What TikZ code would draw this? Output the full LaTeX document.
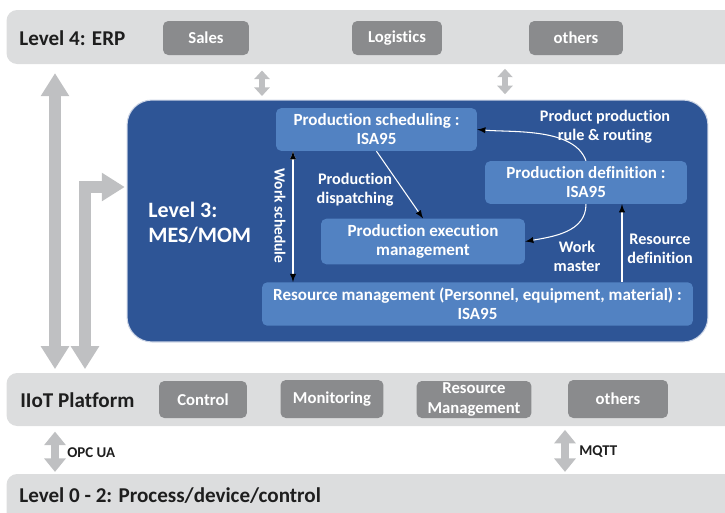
\documentclass[tikz,border=0pt]{standalone}
\usepackage{fontspec}
\setmainfont{Carlito}[Ligatures=NoCommon]
\usetikzlibrary{arrows.meta}
\definecolor{barfill}{RGB}{220,221,222}
\definecolor{boxfill}{RGB}{138,139,141}
\definecolor{arrowgray}{RGB}{191,192,194}
\definecolor{mesblue}{RGB}{46,85,150}
\definecolor{isablue}{RGB}{82,130,194}
\definecolor{bartext}{RGB}{30,30,30}
\begin{document}
\begin{tikzpicture}
	[x=0.02cm,y=-0.02cm,
	bar/.style={fill=barfill,rounded corners=6pt,minimum width=14.7cm},
	barlabel/.style={anchor=west,inner sep=0pt,text=bartext,font=\bfseries\fontsize{12}{14}\selectfont},
	graybox/.style={fill=boxfill,rounded corners=3pt,text=white,align=center,font=\bfseries\fontsize{9.5}{11}\selectfont},
	isabox/.style={fill=isablue,rounded corners=3pt,text=white,align=center,font=\bfseries\fontsize{9.7}{10.8}\selectfont},
	flowlabel/.style={text=white,align=center,font=\bfseries\fontsize{9.2}{10.8}\selectfont},
	fat/.style={draw=arrowgray,line width=0.24cm,{Triangle[width=0.54cm,length=0.46cm]}-{Triangle[width=0.54cm,length=0.46cm]}},
	slim/.style={draw=arrowgray,line width=0.15cm,{Triangle[width=0.42cm,length=0.27cm]}-{Triangle[width=0.42cm,length=0.27cm]}},
	tiny/.style={draw=arrowgray,line width=0.12cm,{Triangle[width=0.3cm,length=0.17cm]}-{Triangle[width=0.3cm,length=0.17cm]}}]
	\useasboundingbox (0,0) rectangle (725,512);
	\clip (0,0) rectangle (725,512);
	% bars
	\node[bar,minimum height=1.08cm] (erp) at (374,37) {};
	\node[bar,minimum height=1.06cm] (iiot) at (374,399.5) {};
	\node[bar,minimum height=1.0cm] (field) at (374,499) {};
	\node[barlabel] (erplabel) at (19,38) {Level 4: ERP};
	\node[barlabel] (iiotlabel) at (20,400) {IIoT Platform};
	\node[barlabel] (fieldlabel) at (19,496) {Level 0 - 2: Process/device/control};
	\node[graybox,minimum width=1.72cm,minimum height=0.68cm] (sales) at (206,38) {Sales};
	\node[graybox,minimum width=1.8cm,minimum height=0.68cm] (logistics) at (397,38) {Logistics};
	\node[graybox,minimum width=1.88cm,minimum height=0.68cm] (erpothers) at (576,38) {others};
	\node[graybox,minimum width=1.76cm,minimum height=0.74cm] (control) at (203,399.5) {Control};
	\node[graybox,minimum width=2.06cm,minimum height=0.76cm] (monitoring) at (332,399) {Monitoring};
	\node[graybox,minimum width=2.3cm,minimum height=0.74cm,inner sep=1pt] (resmgmt) at (474,399.5) {Resource\\Management};
	\node[graybox,minimum width=2.0cm,minimum height=0.76cm] (iiotothers) at (618,399) {others};
	% level 3
	\node[fill=mesblue,draw=white!75!mesblue,line width=0.6pt,rounded corners=0.5cm,minimum width=11.62cm,minimum height=4.84cm] (mes) at (417.5,221) {};
	\node[anchor=west,inner sep=0pt,text=white,align=left,font=\bfseries\fontsize{12.5}{14.2}\selectfont] (meslabel) at (148,223) {Level 3:\\MES/MOM};
	\node[isabox,minimum width=4.02cm,minimum height=0.82cm] (sched) at (376.5,129.5) {Production scheduling :\\ISA95};
	\node[isabox,minimum width=4.04cm,minimum height=0.82cm] (pdef) at (586,182.5) {Production definition :\\ISA95};
	\node[isabox,minimum width=4.08cm,minimum height=0.82cm] (exec) at (423,241.5) {Production execution\\management};
	\node[isabox,minimum width=8.62cm,minimum height=0.84cm] (res) at (477.5,304) {Resource management (Personnel, equipment, material) :\\ISA95};
	\node[flowlabel] (dispatch) at (355,190) {Production\\dispatching};
	\node[flowlabel] (routing) at (605,127) {Product production\\rule \& routing};
	\node[flowlabel] (workmaster) at (577,256) {Work\\master};
	\node[flowlabel] (resdef) at (660,249) {Resource\\definition};
	\node[flowlabel,rotate=-90,font=\bfseries\fontsize{8.8}{10}\selectfont] (worksched) at (280,216) {Work schedule};
	\coordinate (ws) at (293,0);
	\coordinate (rd) at (622,0);
	\path[-latex,draw=white,line width=0.6pt]
	(sched.south) edge (exec.north)
	(pdef.north) edge[out=110,in=-5,looseness=0.8] (sched.east)
	(pdef.south) edge[out=-90,in=10] (exec.east)
	(res.north -| rd) edge (pdef.south -| rd)
	(sched.south -| ws) edge[latex-latex] (res.north -| ws);
	% gray arrows
	\coordinate (a1) at (55,0);
	\coordinate (a2) at (85,187);
	\coordinate (a3) at (262,0);
	\coordinate (a4) at (505,0);
	\coordinate (a5) at (55,0);
	\coordinate (a6) at (565,0);
	\draw[fat,shorten <=5pt,shorten >=2pt] (erp.south -| a1) -- (iiot.north -| a1);
	\draw[fat,shorten <=2pt,shorten >=1pt] (iiot.north -| a2) |- (mes.west |- a2);
	\draw[tiny,shorten <=3.5pt,shorten >=2pt] (erp.south -| a3) -- (mes.north -| a3);
	\draw[tiny,shorten <=2.5pt,shorten >=3pt] (erp.south -| a4) -- (mes.north -| a4);
	\draw[slim,shorten <=3pt,shorten >=1pt] (iiot.south -| a5) -- (field.north -| a5);
	\draw[slim,shorten <=2pt,shorten >=1pt] (iiot.south -| a6) -- (field.north -| a6);
	\node[anchor=west,inner sep=0pt,text=bartext,font=\bfseries\fontsize{8.5}{9}\selectfont] (opcua) at (67,453) {OPC UA};
	\node[anchor=west,inner sep=0pt,text=bartext,font=\bfseries\fontsize{8.5}{9}\selectfont] (mqtt) at (579,452) {MQTT};
\end{tikzpicture}
\end{document}
